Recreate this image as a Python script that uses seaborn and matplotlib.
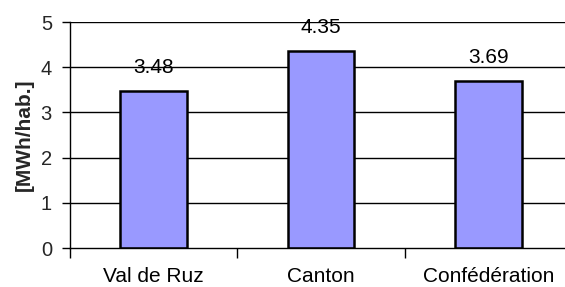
import matplotlib
matplotlib.use("Agg")
import matplotlib.pyplot as plt
import seaborn as sns
import pandas as pd

categories = ["Val de Ruz", "Canton", "Confédération"]
values = [3.48, 4.35, 3.69]
value_labels = ["3.48", "4.35", "3.69"]
y_ticks = [0, 1, 2, 3, 4, 5]
y_label = "[MWh/hab.]"

sns.set_theme(style="white")
plt.rcParams["font.family"] = ["Liberation Sans", "DejaVu Sans"]

df = pd.DataFrame({"cat": categories, "val": values})

fig = plt.figure(figsize=(5.65, 2.87), dpi=100)
ax = fig.add_axes([70 / 565, 39 / 287, 502 / 565, 226 / 287])

sns.barplot(data=df, x="cat", y="val", ax=ax, color="#9999FF", saturation=1,
            width=0.4, edgecolor="black", linewidth=1.8, zorder=3)

ax.set_xlim(-0.5, 2.5)
ax.set_ylim(0, 5)
ax.set_yticks(y_ticks)
ax.set_yticklabels([str(t) for t in y_ticks], fontsize=14.5)
ax.set_xticks(range(len(categories)))
ax.set_xticklabels(categories, fontsize=15)
ax.set_xticks([-0.5, 0.5, 1.5, 2.5], minor=True)
ax.tick_params(axis="x", which="major", length=0, pad=14, colors="black")
ax.tick_params(axis="x", which="minor", length=7, width=1, color="black", direction="out", bottom=True)
ax.tick_params(axis="y", which="major", length=6, width=1, color="black", direction="out", left=True, pad=7)

for t in [1, 2, 3, 4, 5]:
    ax.axhline(t, color="black", linewidth=1, zorder=1)

for s in ["top", "right"]:
    ax.spines[s].set_visible(False)
for s in ["left", "bottom"]:
    ax.spines[s].set_color("black")
    ax.spines[s].set_linewidth(1)
    ax.spines[s].set_zorder(4)

ax.set_xlabel("")
ax.set_ylabel(y_label, fontsize=15, fontweight="bold", labelpad=5)

for i, (v, lab) in enumerate(zip(values, value_labels)):
    ax.annotate(lab, xy=(i, v), xytext=(0, 17), textcoords="offset points",
                ha="center", va="center", fontsize=15, color="black", zorder=5)

fig.savefig("out.png", dpi=100)
